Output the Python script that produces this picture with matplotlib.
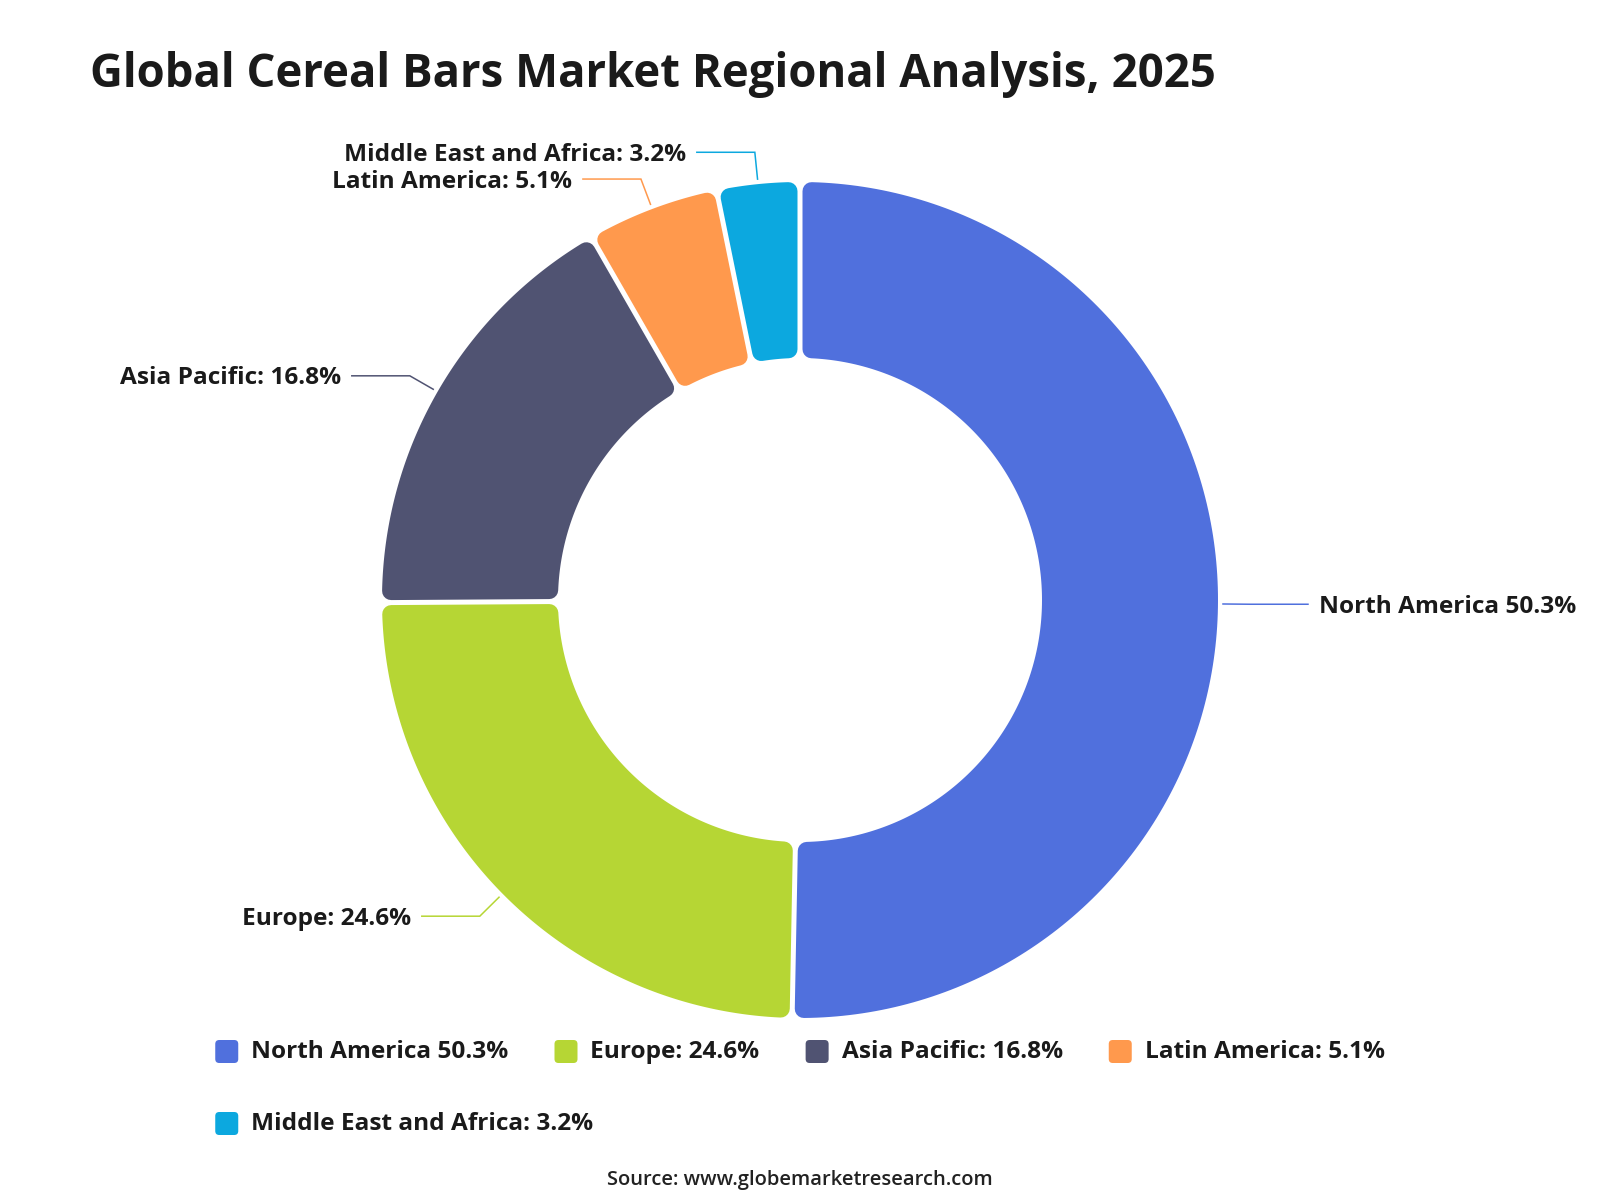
import numpy as np
import matplotlib
matplotlib.use("Agg")
import matplotlib.pyplot as plt
from matplotlib.patches import Polygon, FancyBboxPatch

# ---- data ----
regions = ["North America", "Europe", "Asia Pacific", "Latin America", "Middle East and Africa"]
shares = [50.3, 24.6, 16.8, 5.1, 3.2]
label_texts = ["North America 50.3%", "Europe: 24.6%", "Asia Pacific: 16.8%",
               "Latin America: 5.1%", "Middle East and Africa: 3.2%"]
colors = ["#5070dd", "#b6d634", "#505372", "#ff994d", "#0ca8df"]
title = "Global Cereal Bars Market Regional Analysis, 2025"
source = "Source: www.globemarketresearch.com"

FONT = ["Open Sans", "DejaVu Sans"]
plt.rcParams['font.family'] = FONT

W, H = 1600, 1200
fig = plt.figure(figsize=(16, 12), dpi=100)
ax = fig.add_axes([0, 0, 1, 1])
ax.set_xlim(0, W)
ax.set_ylim(H, 0)
ax.axis('off')

cx, cy = 800, 600
R_out, R_in = 418, 242
gap = 5.0
rc = 9.0
PT = 72.0 / 100.0
LFS = 17.6
TY = 2.5  # vertical text nudge


def pt(c_deg, rho):
    c = np.radians(c_deg)
    return cx + rho * np.sin(c), cy - rho * np.cos(c)


total = sum(shares)
start = 0.0
d = gap / 2 + rc
ro, ri = R_out - rc, R_in + rc
for val, col, lab in zip(shares, colors, label_texts):
    span = val / total * 360.0
    c0, c1 = start, start + span
    ao = np.degrees(np.arcsin(d / ro))
    ai = np.degrees(np.arcsin(d / ri))
    outer = [pt(a, ro) for a in np.linspace(c0 + ao, c1 - ao, 200)]
    inner = [pt(a, ri) for a in np.linspace(c1 - ai, c0 + ai, 200)]
    poly = Polygon(outer + inner, closed=True, facecolor=col, edgecolor=col,
                   linewidth=2 * rc * PT, joinstyle='round', antialiased=True)
    ax.add_patch(poly)

    # leader line + label
    mid = (c0 + c1) / 2
    p1 = pt(mid, R_out + 5)
    p2 = pt(mid, R_out + 32)
    right = np.sin(np.radians(mid)) >= 0
    L2 = 58
    p3 = (p2[0] + L2, p2[1]) if right else (p2[0] - L2, p2[1])
    ax.plot([p1[0], p2[0], p3[0]], [p1[1], p2[1], p3[1]], color=col, lw=1.1,
            solid_joinstyle='miter')
    ax.text(p3[0] + (11 if right else -11), p3[1] + TY, lab, ha='left' if right else 'right',
            va='center', fontsize=LFS, fontweight='bold', color='#1a1a1a')
    start = c1

# title
ax.text(90, 74, title, ha='left', va='center', fontsize=32.8, fontweight='bold', color='#1a1a1a')

# source
ax.text(800, 1179.5, source, ha='center', va='center', fontsize=14.5, fontweight='semibold', color='#222222')

# legend
fig.canvas.draw()
renderer = fig.canvas.get_renderer()
msz = 23
mgap = 13
igap = 46
widths = []
for lab in label_texts:
    t = ax.text(0, 0, lab, fontsize=LFS, fontweight='bold')
    bb = t.get_window_extent(renderer)
    widths.append(bb.width)
    t.remove()
item_w = [msz + mgap + w for w in widths]
rows = [[0, 1, 2, 3], [4]]
row_w = sum(item_w[i] for i in rows[0]) + igap * (len(rows[0]) - 1)
x0 = 800 - row_w / 2
row_y = [1051.5, 1123.5]
for r, idxs in enumerate(rows):
    x = x0
    y = row_y[r]
    for i in idxs:
        rr = 4
        box = FancyBboxPatch((x + rr, y - msz / 2 + rr), msz - 2 * rr, msz - 2 * rr,
                             boxstyle=f"round,pad={rr}", facecolor=colors[i], edgecolor='none')
        ax.add_patch(box)
        ax.text(x + msz + mgap, y, label_texts[i], ha='left', va='center',
                fontsize=LFS, fontweight='bold', color='#1a1a1a')
        x += item_w[i] + igap

fig.savefig("out.png", dpi=100, facecolor='white')
